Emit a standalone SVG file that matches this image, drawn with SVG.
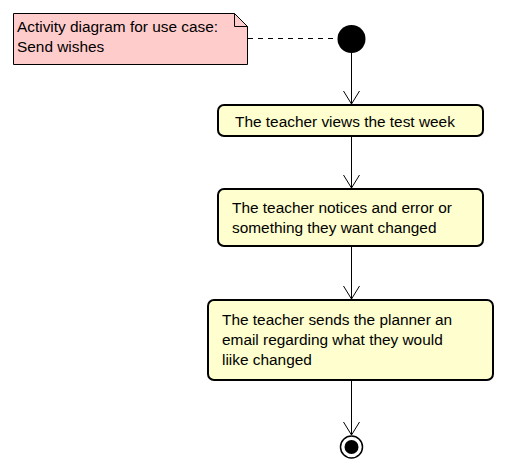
<svg xmlns="http://www.w3.org/2000/svg" width="506" height="473" viewBox="0 0 506 473">
<defs>
<style>
.act{fill:#FEFECE;stroke:#000;stroke-width:2}
.t{font-family:"Liberation Sans",Arial,sans-serif;font-size:15.4px;fill:#000}
.c{stroke:#000;stroke-width:1;fill:none}
</style>
<marker id="arr" markerWidth="20" markerHeight="20" refX="14" refY="10" orient="auto" markerUnits="userSpaceOnUse" viewBox="0 0 20 20">
<path d="M1,2 L14,10 L1,18" fill="none" stroke="#000" stroke-width="1"/>
</marker>
</defs>
<rect width="506" height="473" fill="#fff"/>
<g id="note">
<path d="M13.5,13.5 L234.5,13.5 L247.5,26.5 L247.5,64.5 L13.5,64.5 Z" fill="#FFCCCC" stroke="#000" stroke-width="1"/>
<path d="M234.5,13.5 L234.5,26.5 L247.5,26.5" fill="none" stroke="#000" stroke-width="1"/>
<text class="t" x="17" y="32">Activity diagram for use case:</text>
<text class="t" x="17" y="52">Send wishes</text>
</g>
<g id="start"><circle cx="351.5" cy="39" r="14" fill="#000"/></g>
<g id="a1">
<rect class="act" x="218" y="105" width="265" height="31" rx="6"/>
<text class="t" x="235" y="127">The teacher views the test week</text>
</g>
<g id="a2">
<rect class="act" x="218" y="189" width="265" height="57" rx="6"/>
<text class="t" x="232" y="213">The teacher notices and error or</text>
<text class="t" x="232" y="233">something they want changed</text>
</g>
<g id="a3">
<rect class="act" x="208" y="300" width="285" height="80" rx="6"/>
<text class="t" x="222" y="325">The teacher sends the planner an</text>
<text class="t" x="222" y="345">email regarding what they would</text>
<text class="t" x="222" y="365">liike changed</text>
</g>
<g id="end">
<circle cx="351.5" cy="447" r="11" fill="#fff" stroke="#000" stroke-width="1.5"/>
<circle cx="351.5" cy="447" r="7" fill="#000"/>
</g>
<g id="connectors">
<line x1="248" y1="38.5" x2="337" y2="38.5" stroke="#000" stroke-width="1" stroke-dasharray="5,5"/>
<line class="c" x1="351.5" y1="53" x2="351.5" y2="104" marker-end="url(#arr)"/>
<line class="c" x1="351.5" y1="137" x2="351.5" y2="188" marker-end="url(#arr)"/>
<line class="c" x1="351.5" y1="247" x2="351.5" y2="299" marker-end="url(#arr)"/>
<line class="c" x1="351.5" y1="381" x2="351.5" y2="435" marker-end="url(#arr)"/>
</g>
</svg>
